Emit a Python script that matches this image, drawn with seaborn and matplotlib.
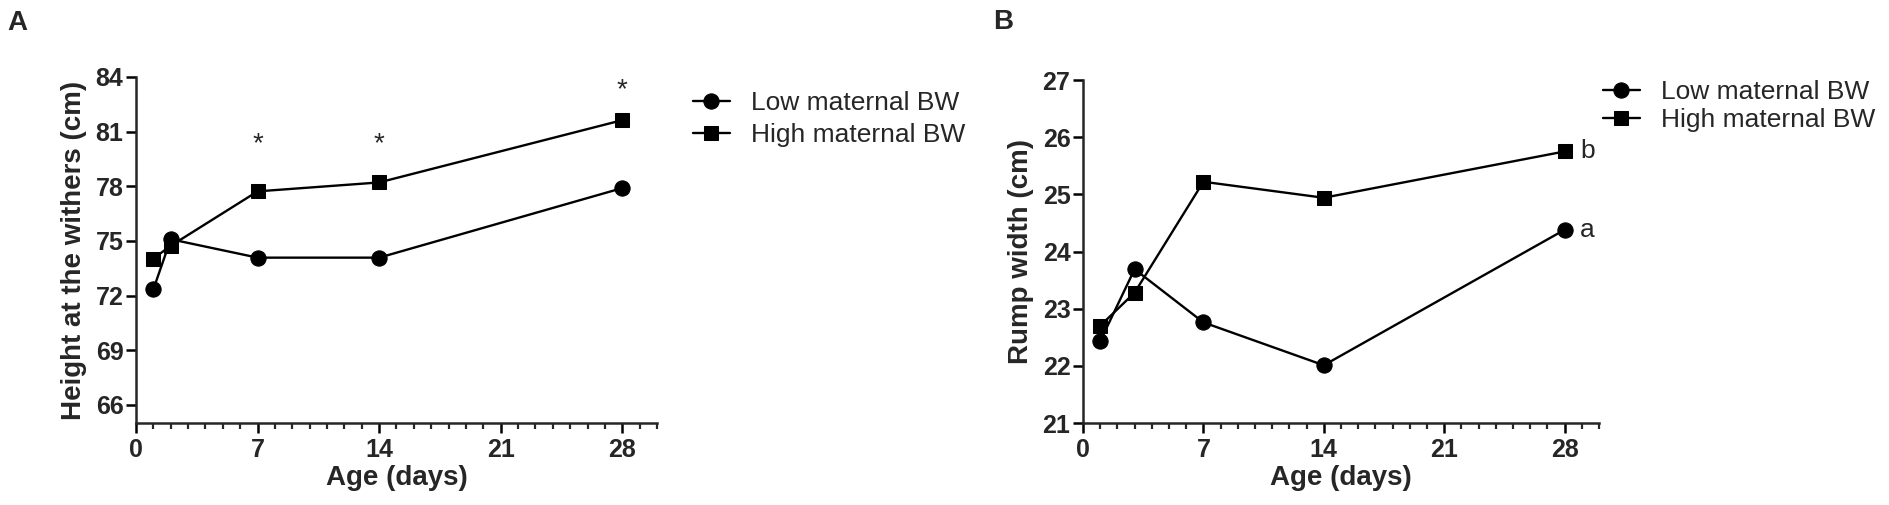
import pandas as pd
import seaborn as sns
import matplotlib.pyplot as plt
from matplotlib.ticker import MultipleLocator

# values
groups = ['Low maternal BW', 'High maternal BW']

age_a = [1, 2, 7, 14, 28]
height_low = [72.34, 75.09, 74.08, 74.08, 77.90]
height_high = [74.03, 74.73, 77.72, 78.21, 81.63]
star_days = [7, 14, 28]
star_y = [79.9, 79.9, 82.9]

age_b = [1, 3, 7, 14, 28]
rump_low = [22.43, 23.69, 22.76, 22.01, 24.38]
rump_high = [22.70, 23.28, 25.22, 24.94, 25.75]
end_letters = ['a', 'b']

df_a = pd.DataFrame({'age': age_a * 2, 'value': height_low + height_high,
                     'group': [groups[0]] * 5 + [groups[1]] * 5})
df_b = pd.DataFrame({'age': age_b * 2, 'value': rump_low + rump_high,
                     'group': [groups[0]] * 5 + [groups[1]] * 5})

sns.set_theme(style='ticks')
plt.rcParams['font.family'] = ['Liberation Sans', 'DejaVu Sans']

W, H = 1890, 505
fig = plt.figure(figsize=(W / 100, H / 100), dpi=100)

markers = {groups[0]: ('o', 11), groups[1]: ('s', 10)}


def draw_panel(ax, df, ylim, yticks, ylabel, leg_pos, leg_spacing):
    for g in groups:
        m, ms = markers[g]
        sns.lineplot(data=df[df['group'] == g], x='age', y='value', ax=ax,
                     color='black', linewidth=1.7, marker=m, markersize=ms,
                     markeredgecolor='black', label=g)
    ax.set_xlim(0, 30)
    ax.set_ylim(*ylim)
    ax.set_xticks([0, 7, 14, 21, 28])
    ax.xaxis.set_minor_locator(MultipleLocator(1))
    ax.set_yticks(yticks)
    sns.despine(ax=ax)
    for s in ['left', 'bottom']:
        ax.spines[s].set_linewidth(1.8)
    ax.tick_params(axis='both', which='major', length=7, width=1.8,
                   labelsize=18, direction='out', color='black')
    ax.tick_params(axis='x', which='minor', length=4, width=1.6)
    ax.tick_params(axis='x', pad=4)
    ax.tick_params(axis='y', pad=2)
    for lab in ax.get_xticklabels() + ax.get_yticklabels():
        lab.set_fontweight('bold')
    ax.set_xlabel('Age (days)', fontsize=20, fontweight='bold', labelpad=2)
    ax.set_ylabel(ylabel, fontsize=20, fontweight='bold', labelpad=6)
    ax.legend(loc='center left', bbox_to_anchor=leg_pos,
              bbox_transform=fig.transFigure, frameon=False, fontsize=19,
              handlelength=1.4, handletextpad=0.8, borderpad=0,
              borderaxespad=0, labelspacing=leg_spacing)


ax_a = fig.add_axes([136 / W, 1 - 423 / H, (657 - 136) / W, (423 - 77) / H])
draw_panel(ax_a, df_a, (65, 84), range(66, 85, 3), 'Height at the withers (cm)',
           (693 / W, 1 - 119 / H), 0.3)
for d, y in zip(star_days, star_y):
    ax_a.text(d, y, '*', ha='center', va='baseline', fontsize=20)

ax_b = fig.add_axes([1083 / W, 1 - 423 / H, (1599 - 1083) / W, (423 - 80) / H])
draw_panel(ax_b, df_b, (21, 27), range(21, 28), 'Rump width (cm)',
           (1603 / W, 1 - 106 / H), 0.15)
for letter, y in zip(end_letters, [rump_low[-1], rump_high[-1]]):
    ax_b.annotate(letter, (age_b[-1], y), xytext=(11, 0),
                  textcoords='offset points', ha='left', va='center',
                  fontsize=19)

fig.text(7 / W, 1 - 23 / H, 'A', fontsize=20, fontweight='bold', va='center')
fig.text(993 / W, 1 - 22 / H, 'B', fontsize=20, fontweight='bold', va='center')

plt.savefig('out.png', dpi=100)
